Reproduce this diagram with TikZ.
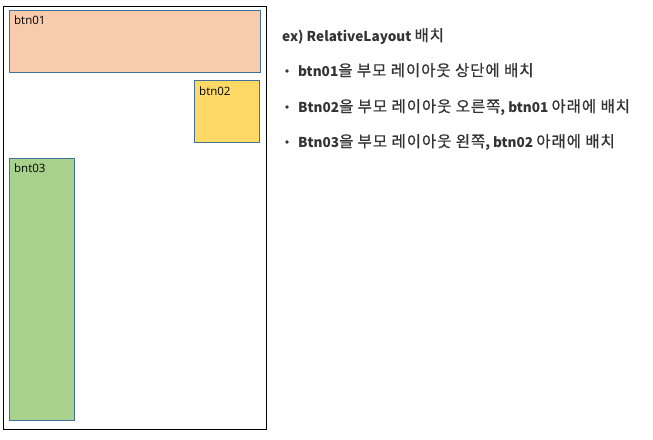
\documentclass[tikz,border=0pt]{standalone}
\usepackage{fontspec}
\setmainfont{Open Sans}
\newfontfamily\kr{Noto Sans CJK KR}
\newfontfamily\krs{Noto Sans CJK KR}[LetterSpace=6,FakeBold=0.8]
\newcommand\hk[1]{{\krs\mdseries\fontsize{15.5}{17}\selectfont #1}}
\definecolor{peach}{HTML}{F8CBAD}
\definecolor{gold}{HTML}{FFD966}
\definecolor{lgreen}{HTML}{A9D18E}
\definecolor{bblue}{HTML}{41719C}
\definecolor{txt}{HTML}{333333}
\begin{document}
\begin{tikzpicture}[x=1pt,y=-1pt,
  btn/.style={draw=bblue,line width=1pt},
  lbl/.style={anchor=north west,inner sep=0pt,font=\fontsize{11.5}{13}\selectfont},
  line/.style={anchor=base west,inner sep=0pt,text=txt,font=\kr\bfseries\fontsize{13.6}{15}\selectfont}]
\useasboundingbox (0,0) rectangle (653,439);
\node[draw=black,line width=1.3pt,minimum width=263pt,minimum height=423pt,inner sep=0pt,anchor=north west] (outer) at (3,6) {};
\filldraw[btn,fill=peach] (9,10) rectangle (260,72);
\filldraw[btn,fill=gold] (194,80) rectangle (259,142);
\filldraw[btn,fill=lgreen] (9,158) rectangle (74,420);
\node[lbl] (l1) at (14,16) {btn01};
\node[lbl] (l2) at (199,87) {btn02};
\node[lbl] (l3) at (14,164) {bnt03};
\node[line] (t0) at (282,41) {ex) RelativeLayout \hk{배치}};
\node[line] (t1) at (298,76) {btn01\hk{을 부모 레이아웃 상단에 배치}};
\node[line] (t2) at (298,112) {Btn02\hk{을 부모 레이아웃 오른쪽}, btn01 \hk{아래에 배치}};
\node[line] (t3) at (298,147) {Btn03\hk{을 부모 레이아웃 왼쪽}, btn02 \hk{아래에 배치}};
\foreach \y in {71,107,142} \fill[txt] (287,\y) circle (1.8pt);
\end{tikzpicture}
\end{document}
